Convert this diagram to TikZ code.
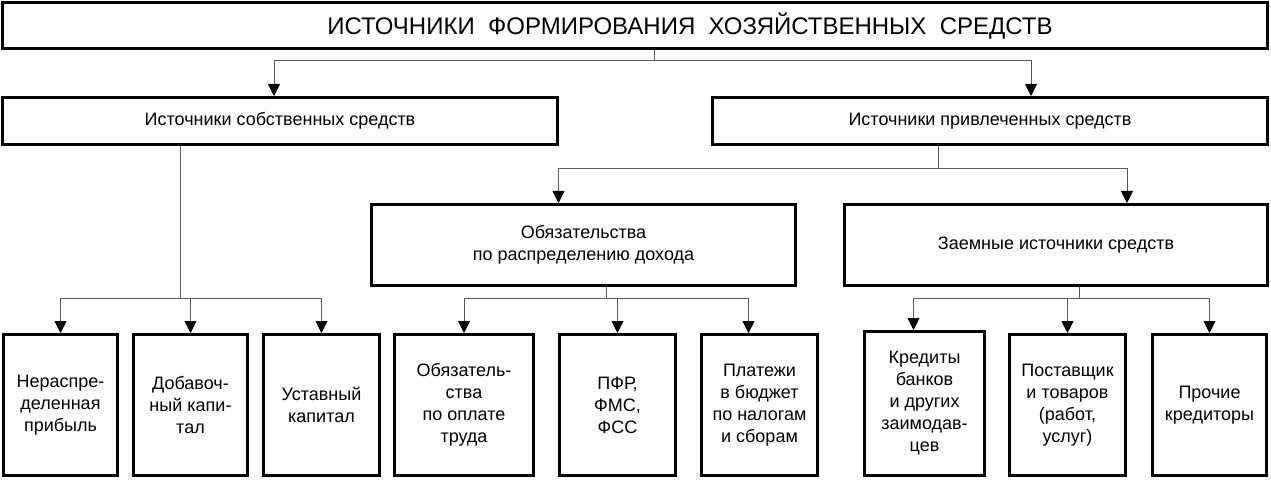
\documentclass[tikz,border=0pt]{standalone}
\usepackage{fontspec}
\setmainfont{Liberation Sans}
\usetikzlibrary{arrows.meta}

\begin{document}
\begin{tikzpicture}[
        x=1pt, y=-1pt,
        font=\fontsize{18}{22}\selectfont,
        box/.style={rectangle, draw, line width=3pt, align=center, inner sep=2pt},
        topbox/.style={box, minimum width=1265pt, minimum height=46pt, font=\fontsize{24}{28}\selectfont},
        midbox/.style={box, minimum width=555pt, minimum height=47pt},
        grpbox/.style={box, minimum width=424pt, minimum height=81pt},
        leaf/.style={box, minimum height=141pt},
        link/.style={draw=black!65, line width=0.9pt},
        arr/.style={link, -{Triangle[length=12pt, width=12pt, color=black]}},
      ]
        \useasboundingbox (0,0) rectangle (1271,481);

        \node[topbox] (title) at (635,26)
          {\hspace*{110pt}ИСТОЧНИКИ\ \ ФОРМИРОВАНИЯ\ \ ХОЗЯЙСТВЕННЫХ\ \ СРЕДСТВ};

        \node[midbox] (own)      at (280,121) {Источники собственных средств};
        \node[midbox] (borrowed) at (990,121) {Источники привлеченных средств};

        \node[grpbox] (duty)                     at (583.5,245) {Обязательства\\по распределению дохода};
        \node[grpbox, minimum width=423pt] (loans) at (1056,245)  {Заемные источники средств};

        \node[leaf, minimum width=114pt] (profit)    at (60.5,405)   {Нераспре-\\деленная\\прибыль};
        \node[leaf, minimum width=114pt] (extra)     at (190.5,405)  {Добавоч-\\ный капи-\\тал};
        \node[leaf, minimum width=116pt] (charter)   at (321.5,405)  {Уставный\\капитал};
        \node[leaf, minimum width=139pt] (wages)     at (464,405)    {Обязатель-\\ства\\по оплате\\труда};
        \node[leaf, minimum width=116pt] (funds)     at (617.5,405)  {ПФР,\\ФМС,\\ФСС};
        \node[leaf, minimum width=116pt] (taxes)     at (759.5,405)  {Платежи\\в бюджет\\по налогам\\и сборам};
        \node[leaf, minimum width=120pt, minimum height=144pt] (credits) at (924.5,403.5)
          {Кредиты\\банков\\и других\\заимодав-\\цев};
        \node[leaf, minimum width=116pt] (suppliers) at (1067.5,405) {Поставщик\\и товаров\\(работ,\\услуг)};
        \node[leaf, minimum width=114pt] (others)    at (1209.5,405) {Прочие\\кредиторы};

        % branch points
        \coordinate (j0) at (654,60);
        \coordinate (j1) at (180,298);
        \coordinate (j2) at (938,168);
        \coordinate (j3) at (606,298);
        \coordinate (j4) at (1079,298);

        \draw[link] (title.south -| j0) -- (j0);
        \draw[arr] (j0) -| ([xshift=-6pt]own.north);
        \draw[arr] (j0) -| ([xshift=41pt]borrowed.north);

        \draw[link] (own.south -| j1) -- (j1);
        \draw[arr] (j1) -| (profit.north);
        \draw[arr] (j1) -| (extra.north);
        \draw[arr] (j1) -| (charter.north);

        \draw[link] (borrowed.south -| j2) -- (j2);
        \draw[arr] (j2) -| ([xshift=-25pt]duty.north);
        \draw[arr] (j2) -| ([xshift=71pt]loans.north);

        \draw[link] (duty.south -| j3) -- (j3);
        \draw[arr] (j3) -| (wages.north);
        \draw[arr] (j3) -| (funds.north);
        \draw[arr] (j3) -| ([xshift=-11pt]taxes.north);

        \draw[link] (loans.south -| j4) -- (j4);
        \draw[arr] (j4) -| ([xshift=-11pt]credits.north);
        \draw[arr] (j4) -| (suppliers.north);
        \draw[arr] (j4) -| (others.north);
      \end{tikzpicture}
\end{document}
